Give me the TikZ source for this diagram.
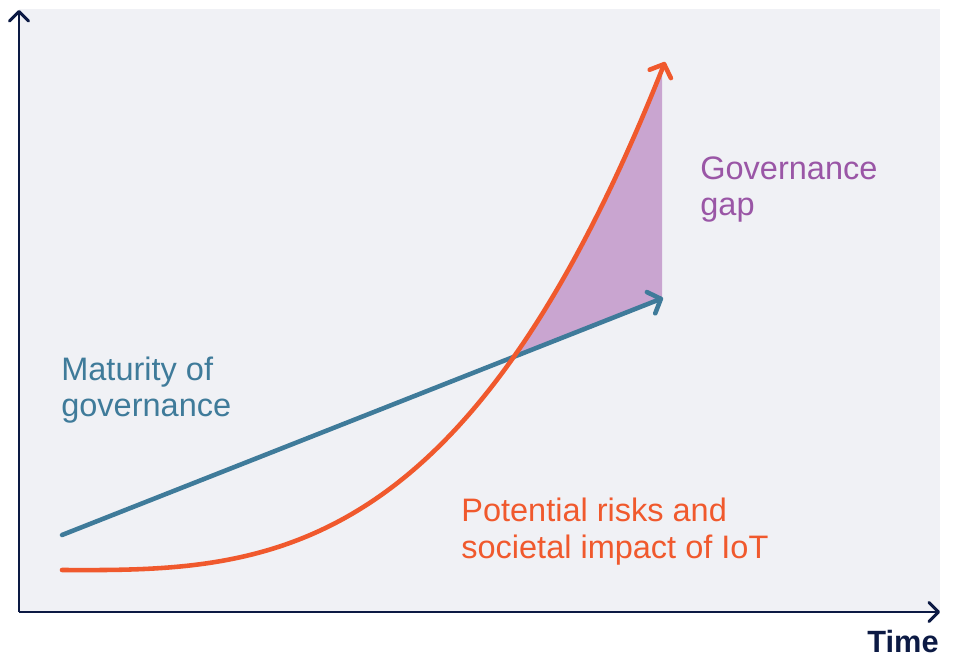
\documentclass[tikz,border=0pt]{standalone}
\usepackage{fontspec}
\setmainfont{Liberation Sans}
\usetikzlibrary{arrows.meta,positioning}

\definecolor{panelgray}{HTML}{F0F1F5}
\definecolor{axisnavy}{HTML}{0C1A44}
\definecolor{riskorange}{HTML}{F0592D}
\definecolor{govblue}{HTML}{3F7B9A}
\definecolor{gappurple}{HTML}{9A56A6}
\definecolor{gapfill}{HTML}{C9A5D0}

\begin{document}
\begin{tikzpicture}[
        x=0.02cm, y=-0.02cm,
        axis/.style={axisnavy, line width=1.7pt, line join=miter,
            arrows={-Straight Barb[length=5.5pt,width=11pt,round]}},
        riskline/.style={riskorange, line width=2.6pt, line cap=round,
            arrows={-Straight Barb[length=6pt,width=13pt,round]}},
        govline/.style={govblue, line width=2.6pt, line cap=round,
            arrows={-Straight Barb[length=6pt,width=13pt,round]}},
        lbl/.style={inner sep=0pt, anchor=base west, align=left,
            font=\fontsize{18.5}{21}\selectfont},
    ]
    \useasboundingbox (0,0) rectangle (953,658);
    % panel
    \fill[panelgray] (19,9) rectangle (940,612);
    % axis
    \coordinate (origin) at (19,612);
    \coordinate (ytop) at (19,10);
    \coordinate (xend) at (940,612);
    \draw[axis] (origin) -- (ytop);
    \draw[axis] (origin) -- (xend);
    \node[inner sep=0pt, anchor=base east, text=axisnavy,
        font=\fontsize{17.5}{21}\selectfont\bfseries] (time) at (939,652) {Time};
    % curve end points
    \coordinate (gov0) at (62,535);
    \coordinate (gov1) at (663,298);
    \coordinate (risk0) at (62,570);
    \coordinate (risk1) at (665,62);
    % governance gap
    \begin{scope}
        \clip (0,0) rectangle (662,658);
        \clip (risk0) .. controls (263,571) and (464,569) .. (risk1)
            -- (900,62) -- (900,612) -- cycle;
        \fill[gapfill] (gov0) -- (gov1) -- (663,0) -- (62,0) -- cycle;
    \end{scope}
    % lines
    \draw[govline] (gov0) -- (gov1);
    \draw[riskline] (risk0) .. controls (263,571) and (464,569) .. (risk1);
    % labels (base = last line)
    \node[lbl, text=govblue] (maturity) at (61,417) {Maturity of\\governance};
    \node[lbl, text=gappurple] (gap) at (700,216) {Governance\\gap};
    \node[lbl, text=riskorange] (risks) at (461,558)
        {Potential risks and\\societal impact of IoT};
\end{tikzpicture}
\end{document}
